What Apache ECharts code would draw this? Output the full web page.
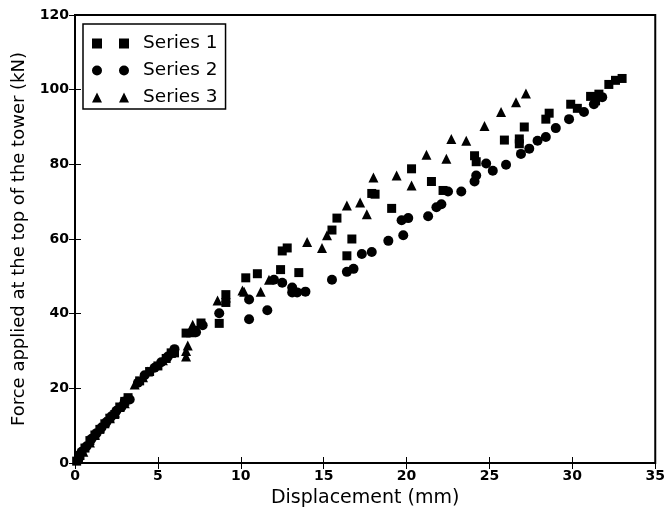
<!DOCTYPE html>
<html><head><meta charset="utf-8">
<script src="https://cdn.jsdelivr.net/npm/echarts@6/dist/echarts.min.js"></script>
<style>html,body{margin:0;padding:0;background:#fff}#c{width:668px;height:513px}</style>
</head><body><div id="c"></div>
<script>
const xTicks = [0,5,10,15,20,25,30,35];
const yTicks = [0,20,40,60,80,100,120];
const seriesNames = ['Series 1','Series 2','Series 3'];
const series1 = [[0.1,0.5],[0.3,2],[0.6,4],[0.9,6],[1.2,7.5],[1.5,9],[1.8,10.5],[2.1,12],[2.4,13],[2.7,15],[3.0,16.5],[3.2,17.5],[3.9,22],[4.5,24.5],[5.0,26],[5.5,28],[5.8,29.5],[6.0,29.5],[6.7,34.8],[7.2,35.5],[7.6,37.5],[8.7,37.4],[9.1,43],[9.1,45.1],[10.3,49.6],[11.0,50.7],[12.4,51.8],[12.5,56.8],[12.8,57.6],[13.5,51],[15.5,62.4],[15.8,65.6],[16.4,55.5],[16.7,60],[17.9,72.2],[18.1,72],[19.1,68.2],[20.3,78.8],[21.5,75.4],[22.2,73],[24.1,82.3],[24.2,80.7],[25.9,86.5],[26.8,86.8],[26.8,85.5],[27.1,90],[28.4,92.1],[28.6,93.7],[29.9,96.1],[30.3,95],[31.1,98.2],[31.4,97],[31.6,98.8],[32.2,101.4],[32.6,102.5],[33.0,103]];
const series2 = [[0.2,1],[0.4,3],[0.7,4.5],[1.0,6.5],[1.3,8],[1.6,9.5],[1.9,11],[2.2,12.5],[2.5,14],[2.8,15],[3.0,16.5],[3.3,17],[3.8,21.5],[4.2,23.5],[4.8,25.5],[5.2,27],[5.6,28.5],[5.9,29.5],[6.0,30.5],[7.3,35],[7.7,36.9],[8.7,40.1],[10.5,38.5],[10.5,43.8],[11.6,40.9],[12.0,49.1],[12.5,48.3],[13.1,47],[13.1,45.7],[13.4,45.7],[13.9,45.9],[15.5,49.1],[16.4,51.2],[16.8,52],[17.3,56],[17.9,56.5],[18.9,59.5],[19.8,61],[19.7,65],[20.1,65.6],[21.3,66.1],[21.8,68.5],[22.1,69.3],[22.5,72.7],[23.3,72.7],[24.1,75.4],[24.2,77],[24.8,80.2],[25.2,78.3],[26.0,79.9],[26.9,82.8],[27.4,84.2],[27.9,86.3],[28.4,87.3],[29.0,89.7],[29.8,92.1],[30.7,94],[31.3,96.1],[31.8,98]];
const series3 = [[0.2,1.5],[0.5,3],[0.9,5.5],[1.2,7.5],[1.5,9.5],[1.8,11],[2.1,12],[2.4,13.5],[2.7,15],[3.0,16],[3.6,21],[4.1,23],[4.4,24.5],[5.3,27.5],[5.8,29.5],[6.7,28.5],[6.7,30],[6.8,31.5],[7.0,35],[7.1,37],[8.6,43.5],[9.1,44.3],[10.1,46.2],[10.2,45.9],[11.2,45.9],[11.7,49.1],[14.0,59.2],[14.9,57.6],[15.2,61],[16.4,69],[17.2,69.8],[17.6,66.6],[18.0,76.5],[19.4,77],[20.3,74.3],[21.2,82.6],[22.4,81.5],[22.7,86.8],[23.6,86.3],[24.7,90.3],[25.7,94],[26.6,96.6],[27.2,99]];

const FONT = 'DejaVu Sans';
const chart = echarts.init(document.getElementById('c'), null, {renderer:'canvas'});
const axCommon = {
  axisLine:{show:false},
  splitLine:{show:false},
  axisTick:{show:true,inside:true,length:6,lineStyle:{color:'#000',width:1}},
};
const markStyle = {color:'#000', opacity:1};
chart.setOption({
  animation:false,
  textStyle:{fontFamily:FONT},
  grid:{left:75,right:11,top:15,bottom:46,show:true,borderColor:'#000',borderWidth:2,backgroundColor:'transparent'},
  legend:{
    left:83, top:24, orient:'vertical',
    padding:[10,8,2,9], itemGap:8,
    borderColor:'#000', borderWidth:1.5,
    itemWidth:37, itemHeight:10,
    textStyle:{fontFamily:FONT,fontSize:18.5,color:'#000',padding:[0,0,0,9]},
    data:[
      {name:seriesNames[0],icon:'path://M0,0h10v10h-10z M27,0h10v10h-10z'},
      {name:seriesNames[1],icon:'path://M5,0A5,5,0,1,1,5,10A5,5,0,1,1,5,0Z M32,0A5,5,0,1,1,32,10A5,5,0,1,1,32,0Z'},
      {name:seriesNames[2],icon:'path://M5,0L10,10L0,10Z M32,0L37,10L27,10Z'}
    ]
  },
  xAxis:[
    Object.assign({type:'value',min:0,max:35,interval:5,position:'bottom',
      name:'Displacement (mm)',nameLocation:'middle',nameGap:26,
      nameTextStyle:{fontFamily:FONT,fontSize:19,color:'#000'},
      axisLabel:{fontFamily:FONT,fontSize:14,fontWeight:'bold',color:'#000',margin:6}},axCommon),
    Object.assign({type:'value',min:0,max:35,interval:5,position:'top',axisLabel:{show:false}},axCommon)
  ],
  yAxis:[
    Object.assign({type:'value',min:0,max:120,interval:20,position:'left',
      name:'Force applied at the top of the tower (kN)',nameLocation:'middle',nameGap:47,
      nameTextStyle:{fontFamily:FONT,fontSize:18,color:'#000'},
      axisLabel:{fontFamily:FONT,fontSize:14,fontWeight:'bold',color:'#000',margin:6}},axCommon),
    Object.assign({type:'value',min:0,max:120,interval:20,position:'right',axisLabel:{show:false}},axCommon)
  ],
  series:[
    {name:seriesNames[0],type:'scatter',symbol:'rect',symbolSize:9,itemStyle:markStyle,data:series1},
    {name:seriesNames[1],type:'scatter',symbol:'circle',symbolSize:10,itemStyle:markStyle,data:series2},
    {name:seriesNames[2],type:'scatter',symbol:'triangle',symbolSize:10,itemStyle:markStyle,data:series3}
  ]
});
</script></body></html>
